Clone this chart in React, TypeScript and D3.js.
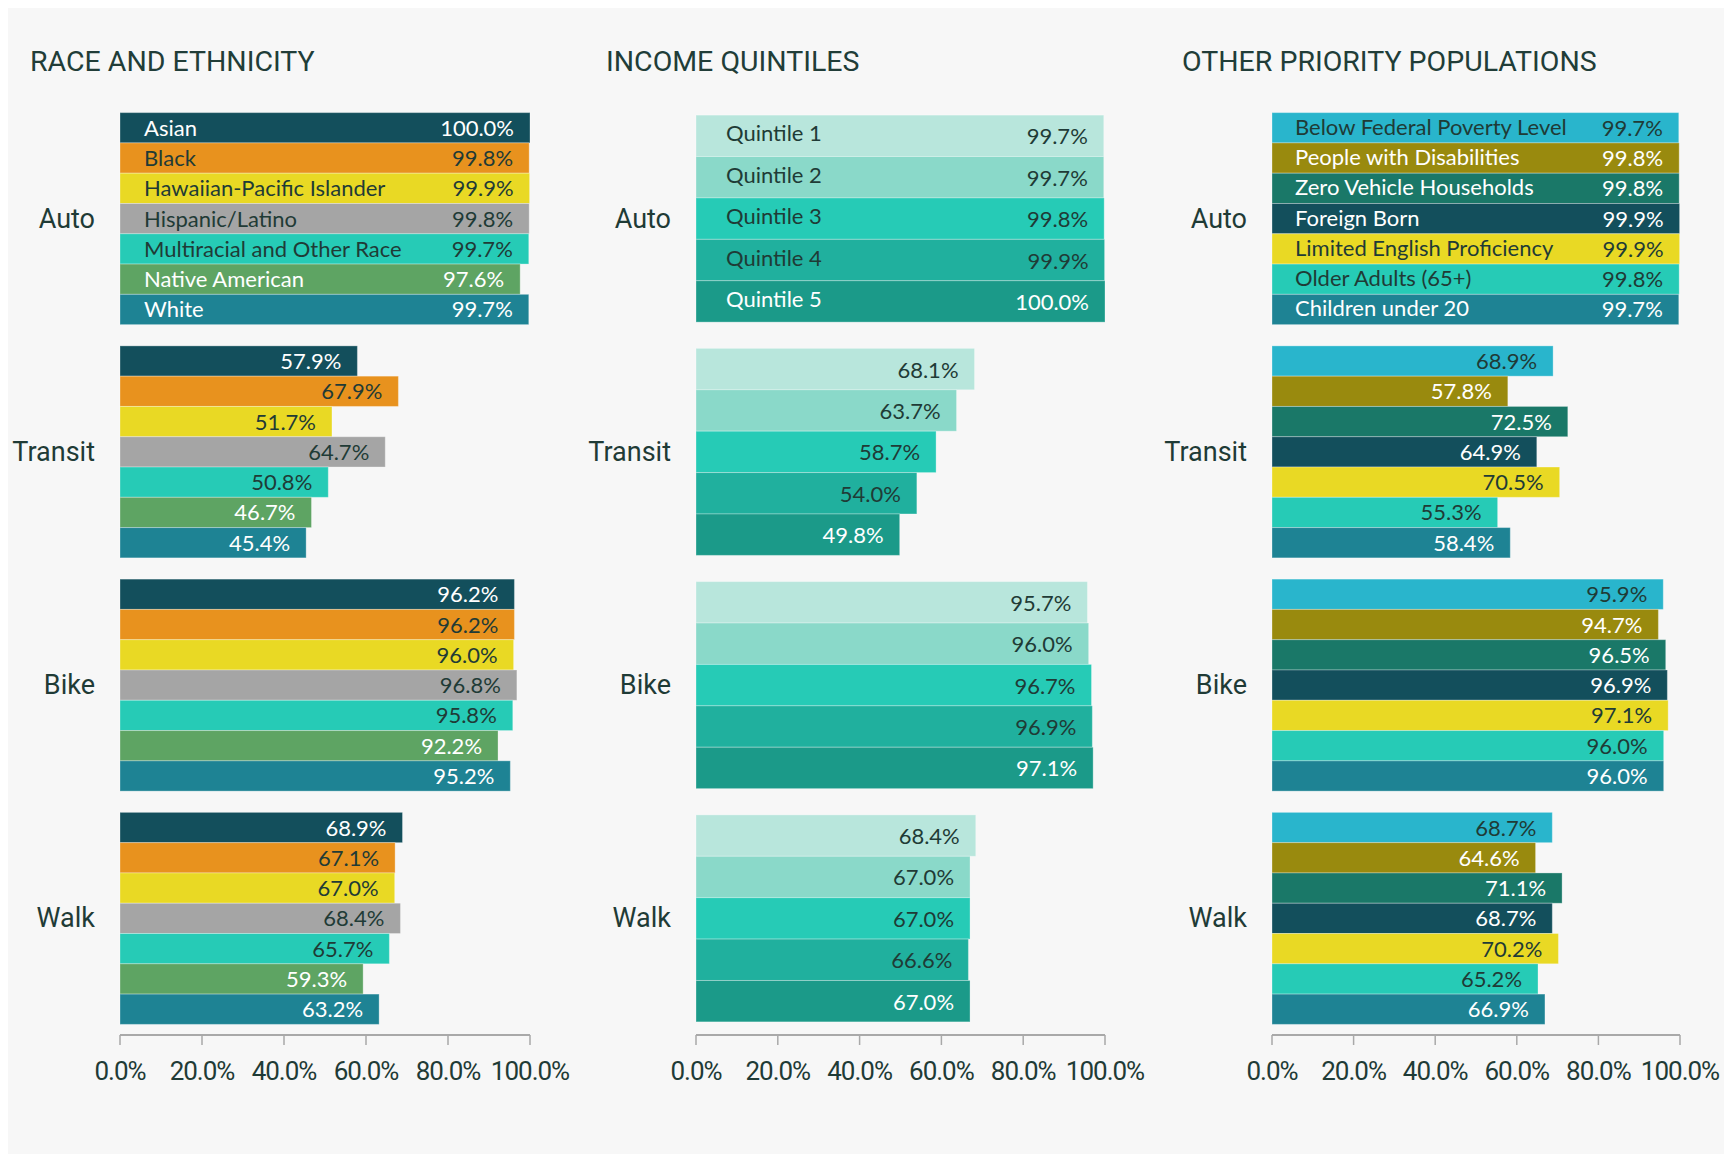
import React from 'react';
import * as d3 from 'd3';

const categories = ['Auto', 'Transit', 'Bike', 'Walk'];
const ticks = [0, 20, 40, 60, 80, 100];

const raceGroups = ['Asian', 'Black', 'Hawaiian-Pacific Islander', 'Hispanic/Latino', 'Multiracial and Other Race', 'Native American', 'White'];
const raceColors = ['#134f5c', '#e8921e', '#e9d924', '#a5a5a5', '#26cbb6', '#5ea463', '#1e8394'];
const raceTextLight = [true, false, false, false, false, true, true];
const raceAuto = [100.0, 99.8, 99.9, 99.8, 99.7, 97.6, 99.7];
const raceTransit = [57.9, 67.9, 51.7, 64.7, 50.8, 46.7, 45.4];
const raceBike = [96.2, 96.2, 96.0, 96.8, 95.8, 92.2, 95.2];
const raceWalk = [68.9, 67.1, 67.0, 68.4, 65.7, 59.3, 63.2];

const incomeGroups = ['Quintile 1', 'Quintile 2', 'Quintile 3', 'Quintile 4', 'Quintile 5'];
const incomeColors = ['#b8e6dc', '#8ad9c9', '#26cbb6', '#20b09e', '#1b9a89'];
const incomeTextLight = [false, false, false, false, true];
const incomeAuto = [99.7, 99.7, 99.8, 99.9, 100.0];
const incomeTransit = [68.1, 63.7, 58.7, 54.0, 49.8];
const incomeBike = [95.7, 96.0, 96.7, 96.9, 97.1];
const incomeWalk = [68.4, 67.0, 67.0, 66.6, 67.0];

const otherGroups = ['Below Federal Poverty Level', 'People with Disabilities', 'Zero Vehicle Households', 'Foreign Born', 'Limited English Proficiency', 'Older Adults (65+)', 'Children under 20'];
const otherColors = ['#29b5cc', '#998a0e', '#1a7868', '#134f5c', '#e9d924', '#26cbb6', '#1e8394'];
const otherTextLight = [false, true, true, true, false, false, true];
const otherAuto = [99.7, 99.8, 99.8, 99.9, 99.9, 99.8, 99.7];
const otherTransit = [68.9, 57.8, 72.5, 64.9, 70.5, 55.3, 58.4];
const otherBike = [95.9, 94.7, 96.5, 96.9, 97.1, 96.0, 96.0];
const otherWalk = [68.7, 64.6, 71.1, 68.7, 70.2, 65.2, 66.9];

const DARK = '#1f3b36';
const LIGHT = '#ffffff';

const panels = [
  { title: 'RACE AND ETHNICITY', groups: raceGroups, colors: raceColors, light: raceTextLight,
    values: [raceAuto, raceTransit, raceBike, raceWalk], x0: 120, width: 410, half: 106, labelDx: 24, labelDy: 8, valueDy: 8 },
  { title: 'INCOME QUINTILES', groups: incomeGroups, colors: incomeColors, light: incomeTextLight,
    values: [incomeAuto, incomeTransit, incomeBike, incomeWalk], x0: 696, width: 409, half: 103.5, labelDx: 30, labelDy: 5.5, valueDy: 8.5 },
  { title: 'OTHER PRIORITY POPULATIONS', groups: otherGroups, colors: otherColors, light: otherTextLight,
    values: [otherAuto, otherTransit, otherBike, otherWalk], x0: 1272, width: 408, half: 106, labelDx: 23, labelDy: 7, valueDy: 8 },
];

const yCat = d3.scaleBand<string>().domain(categories).range([102, 1035]).padding(0);
const AXIS_Y = 1035;

function Panel({ p }: { p: typeof panels[number] }) {
  const x = d3.scaleLinear().domain([0, 100]).range([p.x0, p.x0 + p.width]);
  return (
    <g>
      <text x={p.x0 - 90} y={71} fontFamily="Roboto" fontSize={28.5} fill="#213d38">{p.title}</text>
      {categories.map((cat, ci) => {
        const center = (yCat(cat) as number) + yCat.bandwidth() / 2;
        const yIn = d3.scaleBand<string>().domain(p.groups).range([center - p.half, center + p.half]).padding(0);
        const vals = p.values[ci];
        return (
          <g key={cat}>
            <text x={p.x0 - 25} y={center + 9} textAnchor="end" fontFamily="Roboto" fontSize={27} fill={DARK}>{cat}</text>
            {p.groups.map((g, gi) => {
              const y = yIn(g) as number;
              const h = yIn.bandwidth();
              const v = vals[gi];
              const tc = p.light[gi] ? LIGHT : DARK;
              return (
                <g key={g}>
                  <rect x={x(0)} y={y} width={x(v) - x(0)} height={h} fill={p.colors[gi]}
                    stroke="rgba(255,255,255,0.3)" strokeWidth={1} />
                  {ci === 0 && (
                    <text x={x(0) + p.labelDx} y={y + h / 2 + p.labelDy} fontFamily="Lato" fontSize={22} fill={tc}>{g}</text>
                  )}
                  <text x={x(v) - 16} y={y + h / 2 + p.valueDy} textAnchor="end" fontFamily="Lato" fontSize={22} fill={tc}>{v.toFixed(1) + '%'}</text>
                </g>
              );
            })}
          </g>
        );
      })}
      <line x1={x(0)} x2={x(100)} y1={AXIS_Y} y2={AXIS_Y} stroke="#a9a9a9" strokeWidth={2} />
      {ticks.map((t) => (
        <g key={t}>
          <line x1={x(t)} x2={x(t)} y1={AXIS_Y} y2={AXIS_Y + 10} stroke="#a9a9a9" strokeWidth={1.5} />
          <text x={x(t)} y={1080} textAnchor="middle" fontFamily="Roboto" fontSize={26} letterSpacing={-1} fill={DARK}>{t.toFixed(1) + '%'}</text>
        </g>
      ))}
    </g>
  );
}

export default function App() {
  return (
    <>
      <style>{'html,body{overflow:hidden}'}</style>
      <svg width={1724} height={1146} style={{ display: 'block' }}>
        <rect x={0} y={0} width={1724} height={1146} fill="#f7f7f7" />
        <g transform="translate(-8,-8)">
          {panels.map((p) => <Panel key={p.title} p={p} />)}
        </g>
      </svg>
    </>
  );
}
